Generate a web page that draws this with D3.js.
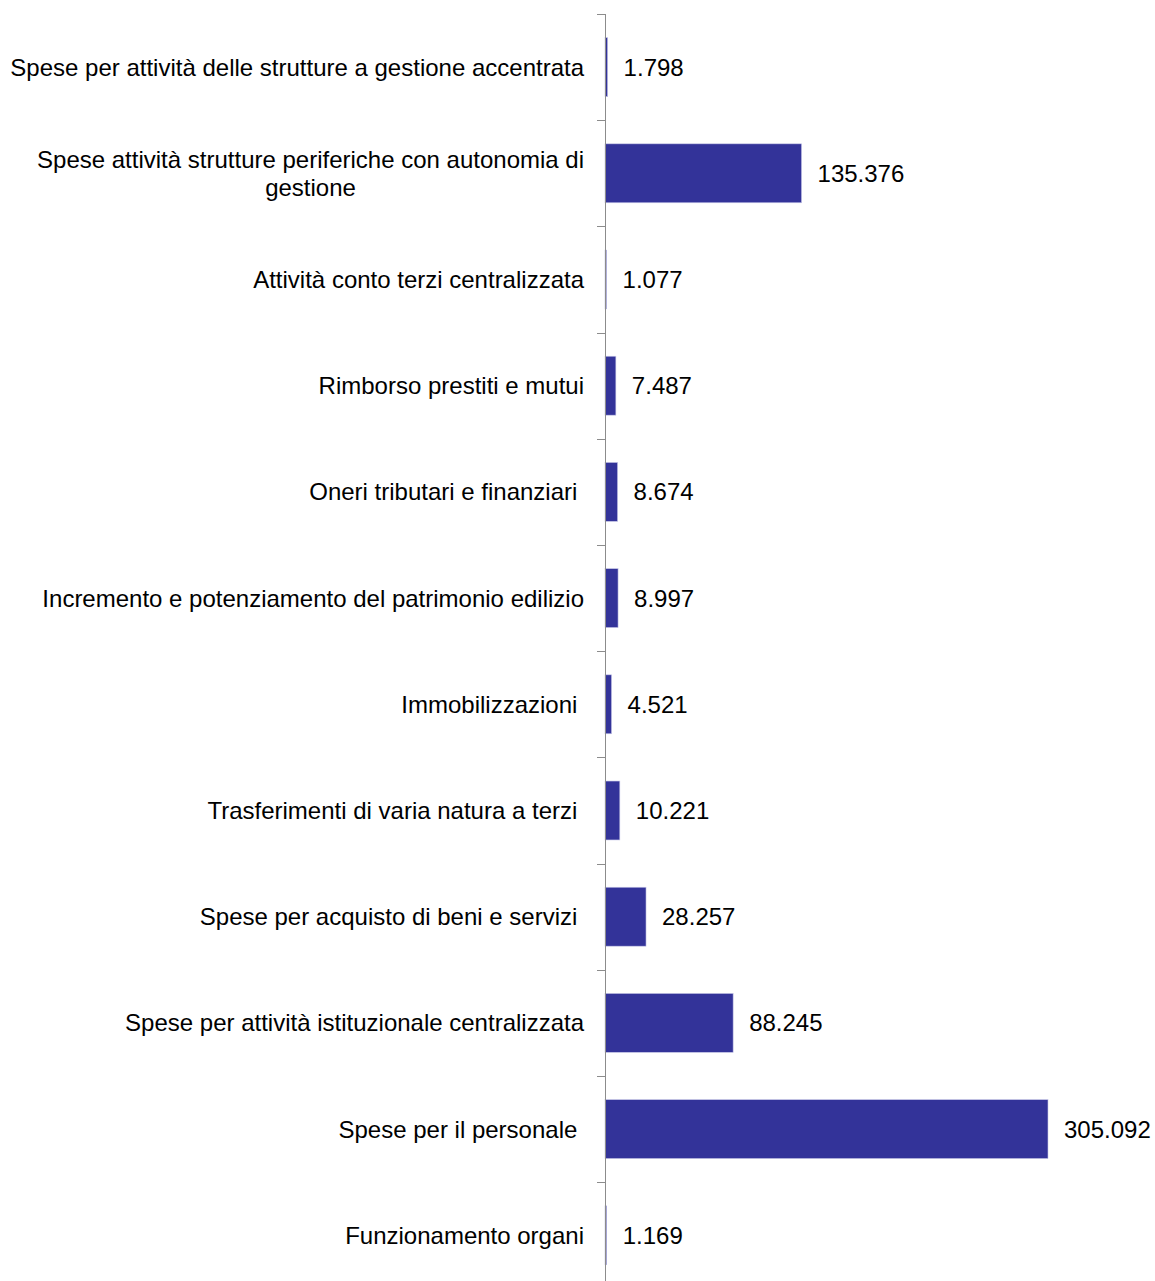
<!DOCTYPE html>
<html><head><meta charset="utf-8">
<script src="https://cdn.jsdelivr.net/npm/d3@7"></script>
<style>
html,body{margin:0;padding:0;background:#fff;}
text{font-family:"Liberation Sans",Arial,sans-serif;white-space:pre;}
</style></head>
<body><svg id="c" width="1155" height="1281"></svg>
<script>
const categories = [
  "Spese per attività delle strutture a gestione accentrata",
  "Spese attività strutture periferiche con autonomia di\ngestione",
  "Attività conto terzi centralizzata",
  "Rimborso prestiti e mutui",
  "Oneri tributari e finanziari ",
  "Incremento e potenziamento del patrimonio edilizio",
  "Immobilizzazioni ",
  "Trasferimenti di varia natura a terzi ",
  "Spese per acquisto di beni e servizi ",
  "Spese per attività istituzionale centralizzata",
  "Spese per il personale ",
  "Funzionamento organi"
];
const values = [1798, 135376, 1077, 7487, 8674, 8997, 4521, 10221, 28257, 88245, 305092, 1169];

const svg = d3.select("#c");
const axisX = 605, topY = 14, step = 106.2;
const y = d3.scaleBand().domain(categories).range([topY, topY + step * categories.length]).paddingInner(0.445).paddingOuter(0.2225);
const x = d3.scaleLinear().domain([0, 350000]).range([axisX, axisX + 508.2]);
const fmt = d3.formatLocale({decimal: ",", thousands: ".", grouping: [3], currency: ["€", ""]}).format(",d");
const fs = 24;

// bars
svg.append("g").selectAll("rect").data(values).join("rect")
  .attr("x", x(0))
  .attr("y", (d, i) => y(categories[i]))
  .attr("width", d => x(d) - x(0))
  .attr("height", y.bandwidth())
  .attr("fill", "#333399")
  .attr("stroke", "#c8c8e8").attr("stroke-width", 0.6);

// axis line & ticks at band boundaries
const ax = svg.append("g").attr("stroke", "#8c8c8c").attr("stroke-width", 1);
ax.append("line").attr("x1", axisX + 0.5).attr("x2", axisX + 0.5).attr("y1", topY).attr("y2", topY + step * categories.length);
categories.forEach((c, i) => {
  const yy = Math.round(y(c) - y.step() * y.paddingOuter()) + 0.5;
  ax.append("line").attr("x1", axisX - 8).attr("x2", axisX).attr("y1", yy).attr("y2", yy);
});

// value labels
svg.append("g").selectAll("text").data(values).join("text")
  .attr("x", d => x(d) + 16)
  .attr("y", (d, i) => y(categories[i]) + y.bandwidth() / 2)
  .attr("dy", "0.35em")
  .attr("font-size", fs).attr("fill", "#000")
  .text(d => fmt(d));

// category labels
const lg = svg.append("g");
categories.forEach((c, i) => {
  const lines = c.split("\n");
  const cy = y(c) + y.bandwidth() / 2;
  const lh = 28;
  const t = lg.append("text").attr("font-size", fs).attr("fill", "#000");
  if (lines.length === 1) {
    t.attr("x", 584).attr("y", cy).attr("dy", "0.35em").attr("text-anchor", "end").text(lines[0]);
  } else {
    const tmp = lg.append("text").attr("font-size", fs).text(lines[0]);
    const w = tmp.node().getComputedTextLength();
    tmp.remove();
    const cx = 584 - w / 2;
    t.attr("text-anchor", "middle");
    lines.forEach((ln, k) => {
      t.append("tspan").attr("x", cx).attr("y", cy + (k - (lines.length - 1) / 2) * lh).attr("dy", "0.35em").text(ln);
    });
  }
});
</script></body></html>
